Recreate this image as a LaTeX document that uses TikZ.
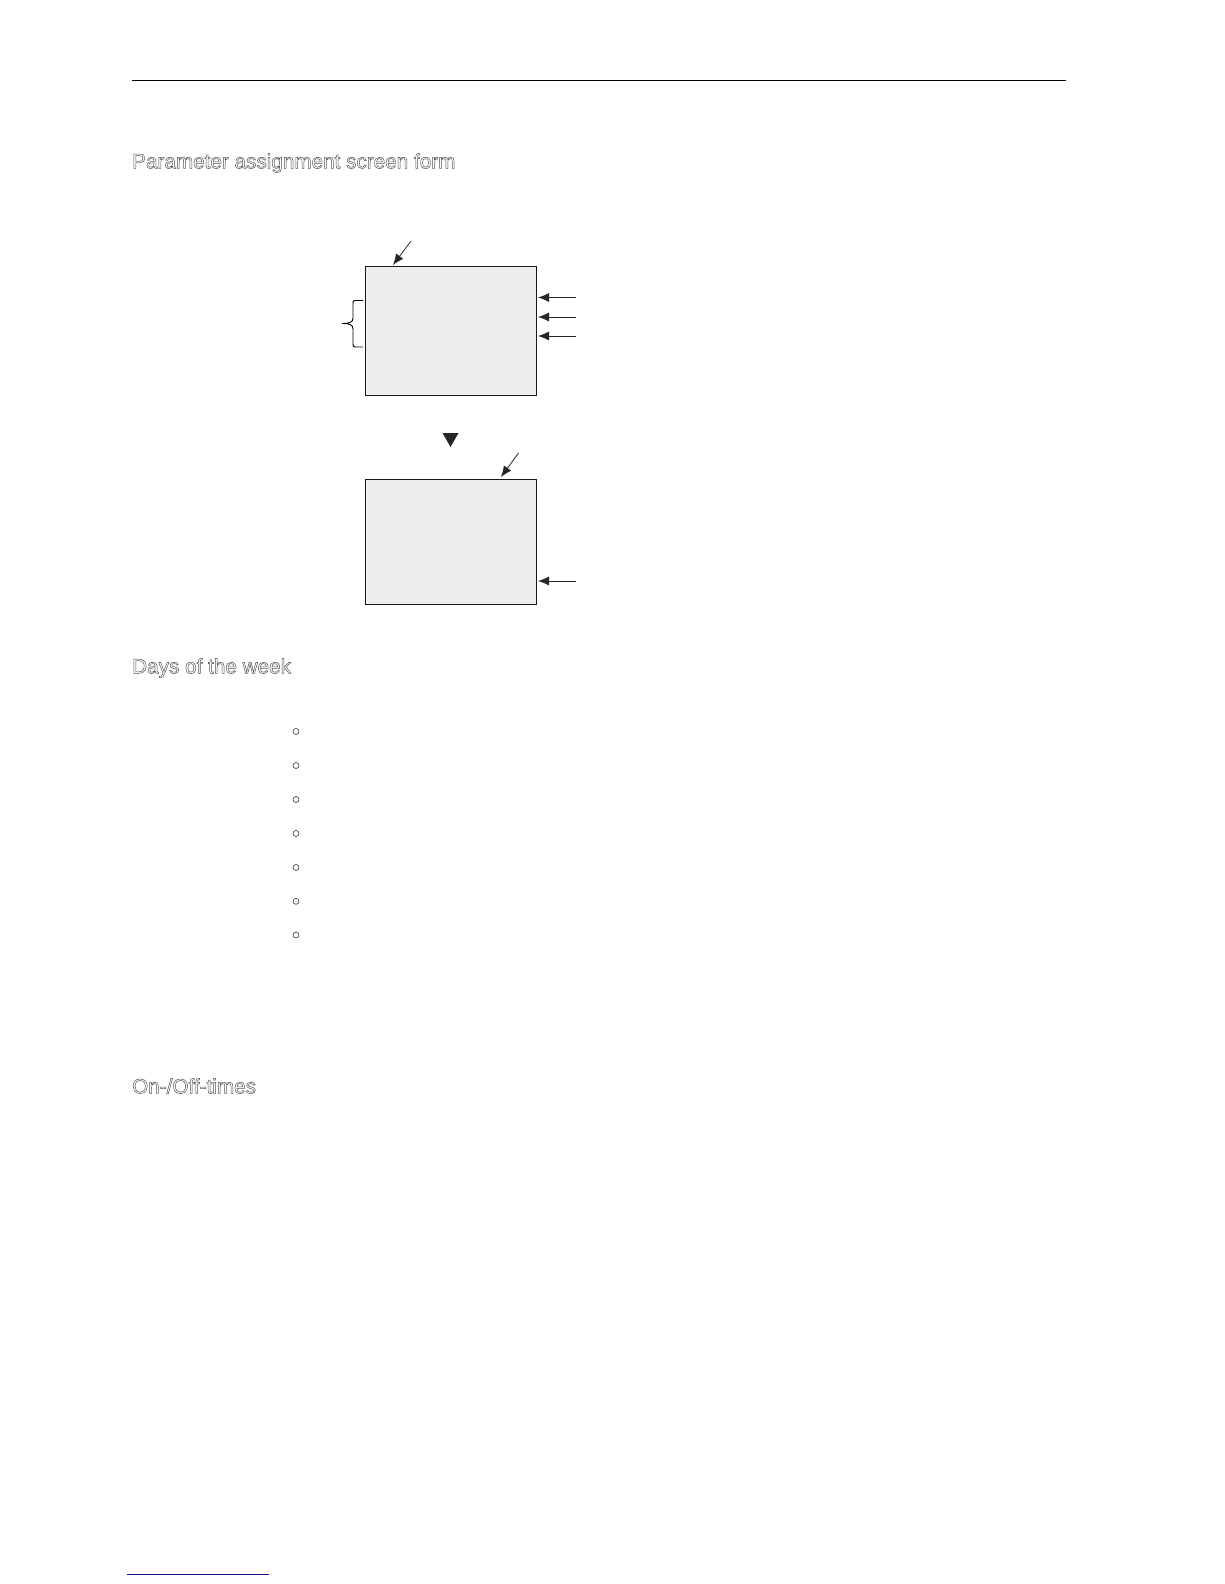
\documentclass[tikz,border=0pt]{standalone}
\usepackage{fontspec}
\setmainfont{Liberation Sans}
\usetikzlibrary{arrows.meta}
\newcommand\outlinetext[1]{\special{pdf:literal direct 1 Tr 0.5 w}#1\special{pdf:literal direct 0 Tr}}
\begin{document}
\begin{tikzpicture}[x=1pt,y=-1pt,
  heading/.style={anchor=west,inner sep=0pt,font=\fontsize{20.7}{24}\selectfont,text=black!68},
  screen/.style={draw=black!90,fill=black!7,line width=1pt},
  pointer/.style={-{Latex[length=11pt,width=9pt]},line width=0.8pt,black!85},
  dayring/.style={circle,draw=black!80,line width=0.6pt,inner sep=0pt,minimum size=6pt}]
\useasboundingbox (0,0) rectangle (1224,1584);
% header rule
\coordinate (ruleL) at (132,80.5);
\coordinate (ruleR) at (1066,80.5);
\draw[line width=1.5pt] (ruleL) -- (ruleR);
% headings
\node[heading] (h1) at (132,163) {\outlinetext{Parameter assignment screen form}};
\node[heading] (h2) at (132,668) {\outlinetext{Days of the week}};
\node[heading] (h3) at (132,1086) {\outlinetext{On-/Off-times}};
% screen 1
\draw[screen] (365.5,266.5) rectangle (536.5,395);
\coordinate (a1s) at (411,241);
\coordinate (a1e) at (393,265);
\draw[pointer] (a1s) -- (a1e);
\coordinate (r1s) at (576,297.5);
\coordinate (r1e) at (538,297.5);
\coordinate (r2s) at (576,317);
\coordinate (r2e) at (538,317);
\coordinate (r3s) at (576,336);
\coordinate (r3e) at (538,336);
\draw[pointer] (r1s) -- (r1e);
\draw[pointer] (r2s) -- (r2e);
\draw[pointer] (r3s) -- (r3e);
% brace
\coordinate (bt) at (363,300.5);
\coordinate (btip) at (342,323.5);
\coordinate (bb) at (363,347);
\draw[line width=0.9pt] (bt) -- (357,300.5) .. controls (353,300.5) .. (353,305) -- (353,318)
  .. controls (353,322) and (350,323.5) .. (btip)
  .. controls (350,323.5) and (353,325) .. (353,329) -- (353,342)
  .. controls (353,347) .. (357,347) -- (bb);
% triangle
\coordinate (tri) at (450.5,440);
\fill[black!85] (442.5,433) -- (458.5,433) -- (450.5,447) -- cycle;
% screen 2
\draw[screen] (365.5,479) rectangle (536.5,604);
\coordinate (a2s) at (518.5,453);
\coordinate (a2e) at (501,477);
\draw[pointer] (a2s) -- (a2e);
\coordinate (r4s) at (576,581);
\coordinate (r4e) at (538,581);
\draw[pointer] (r4s) -- (r4e);
% days bullets
\foreach \y [count=\i] in {731.5,765.5,799.5,833.5,867.5,901.3,935}
  \node[dayring] (d\i) at (296,\y) {};
% footer link line
\coordinate (fL) at (127,1574.5);
\coordinate (fR) at (269,1574.5);
\draw[line width=1.3pt,color={rgb,255:red,20;green,20;blue,140}] (fL) -- (fR);
\end{tikzpicture}
\end{document}
